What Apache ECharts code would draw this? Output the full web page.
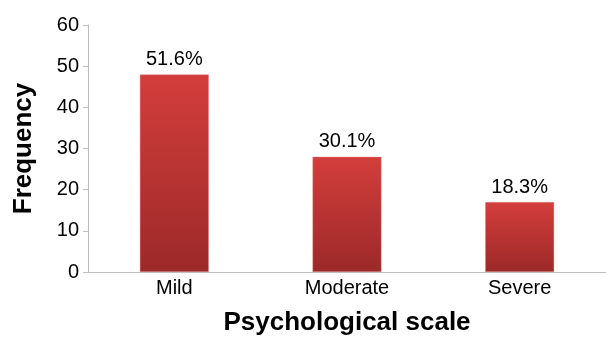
<!DOCTYPE html>
<html><head><meta charset="utf-8">
<script src="https://cdn.jsdelivr.net/npm/echarts@6/dist/echarts.min.js"></script>
<style>html,body{margin:0;padding:0;background:#fff}#c{width:606px;height:341px}</style>
</head><body><div id="c"></div>
<script>
const categories = ['Mild', 'Moderate', 'Severe'];
const frequencies = [48, 28, 17];
const percentLabels = ['51.6%', '30.1%', '18.3%'];
const yTicks = { min: 0, max: 60, interval: 10 };

const chart = echarts.init(document.getElementById('c'), null, { renderer: 'canvas' });
chart.setOption({
  animation: false,
  grid: { left: 88, right: -8, top: 25, bottom: 67 },
  xAxis: {
    type: 'category', data: categories,
    name: 'Psychological scale', nameLocation: 'middle', nameGap: 38,
    nameTextStyle: { fontFamily: 'Liberation Sans', fontSize: 26, fontWeight: 'bold', color: '#000' },
    axisLine: { lineStyle: { color: '#bfbfbf', width: 1 } },
    axisTick: { show: false },
    axisLabel: { fontFamily: 'Liberation Sans', fontSize: 20, color: '#000', margin: 6 }
  },
  yAxis: {
    type: 'value', min: yTicks.min, max: yTicks.max, interval: yTicks.interval,
    name: 'Frequency', nameLocation: 'middle', nameGap: 51, nameRotate: 90,
    nameTextStyle: { fontFamily: 'Liberation Sans', fontSize: 26, fontWeight: 'bold', color: '#000' },
    axisLine: { show: true, lineStyle: { color: '#bfbfbf', width: 1 } },
    axisTick: { show: true, length: 5, lineStyle: { color: '#bfbfbf' } },
    splitLine: { show: false },
    axisLabel: { fontFamily: 'Liberation Sans', fontSize: 20, color: '#000', margin: 9 }
  },
  series: [{
    type: 'bar', data: frequencies, barWidth: '40%',
    itemStyle: {
      color: new echarts.graphic.LinearGradient(0, 0, 0, 1, [
        { offset: 0, color: '#d33e3b' },
        { offset: 1, color: '#9c2929' }
      ]),
      borderColor: 'rgba(225,140,140,0.7)', borderWidth: 0.6
    },
    label: {
      show: true, position: 'top', distance: 5,
      fontFamily: 'Liberation Sans', fontSize: 20, color: '#000',
      formatter: p => percentLabels[p.dataIndex]
    }
  }]
});
</script></body></html>
